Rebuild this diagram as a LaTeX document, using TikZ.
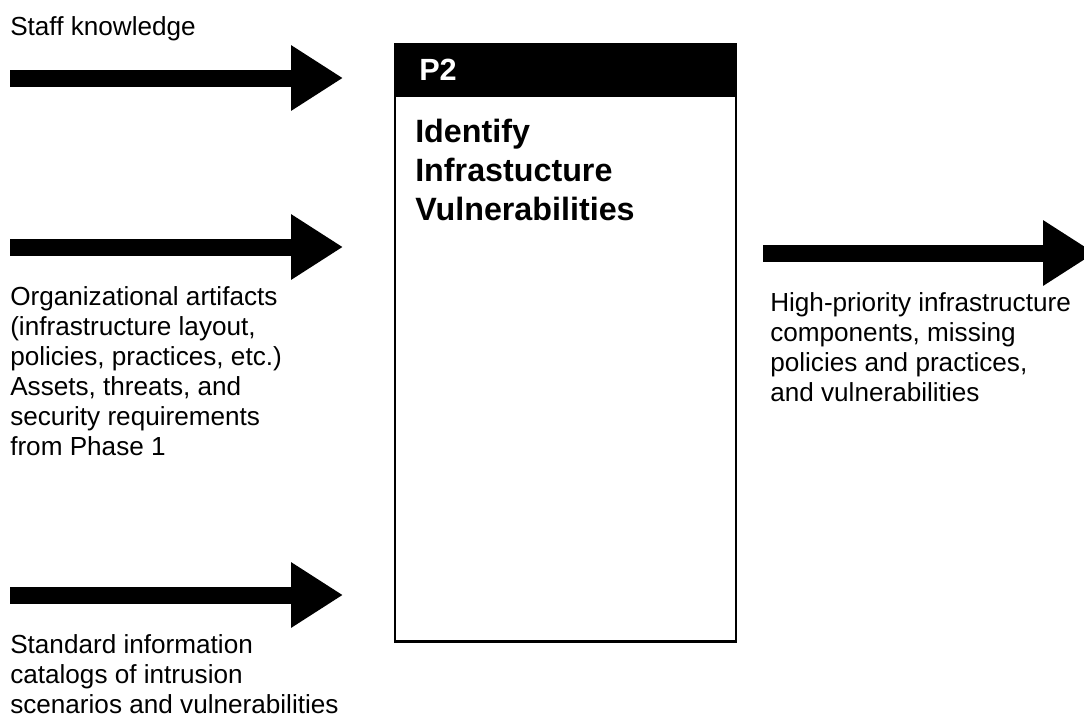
\documentclass[tikz,border=0pt]{standalone}
\usepackage{fontspec}
\setmainfont{Liberation Sans}
\usetikzlibrary{arrows.meta}
\tikzset{
  blockarrow/.style={line width=12.75pt, -{Triangle[length=39pt,width=46.5pt]}},
  lbl/.style={inner sep=0pt, anchor=base west, align=left, font=\fontsize{19.6}{22.5}\selectfont},
  title/.style={inner sep=0pt, anchor=base west, align=left, font=\fontsize{24.2}{29}\selectfont\bfseries},
}
\begin{document}
\begin{tikzpicture}[x=0.75pt,y=-0.75pt]
\useasboundingbox (0,0) rectangle (1084,719);
\clip (0,0) rectangle (1084,719);
\fill[white] (0,0) rectangle (1084,719);
% process box
\node[draw, line width=2pt, minimum width=341*0.75pt, minimum height=597*0.75pt, inner sep=0pt, anchor=north west] (box) at (393.5,43) {};
\fill[black] (box.north west) rectangle (735,97);
\node[inner sep=0pt, anchor=base west, text=white, font=\fontsize{23}{23}\selectfont\bfseries] (p2) at (419,80) {P2};
% node base = baseline of the last line
\node[title] (ttl) at (415,220) {Identify\\Infrastucture\\Vulnerabilities};
% inputs
\coordinate (a1s) at (10,78);  \coordinate (a1e) at (343,78);
\coordinate (a2s) at (10,247); \coordinate (a2e) at (343,247);
\coordinate (a3s) at (10,595); \coordinate (a3e) at (343,595);
\coordinate (o1s) at (763,253); \coordinate (o1e) at (1095,253);
\draw[blockarrow] (a1s) -- (a1e);
\draw[blockarrow] (a2s) -- (a2e);
\draw[blockarrow] (a3s) -- (a3e);
\draw[blockarrow] (o1s) -- (o1e);
% labels
\node[lbl] (l1) at (10,35) {Staff knowledge};
\node[lbl] (l2) at (10,455) {Organizational artifacts\\(infrastructure layout,\\policies, practices, etc.)\\Assets, threats, and\\security requirements\\from Phase 1};
\node[lbl] (l3) at (10,713) {Standard information\\catalogs of intrusion\\scenarios and vulnerabilities};
\node[lbl] (l4) at (770,401) {High-priority infrastructure\\components, missing\\policies and practices,\\and vulnerabilities};
\end{tikzpicture}
\end{document}
